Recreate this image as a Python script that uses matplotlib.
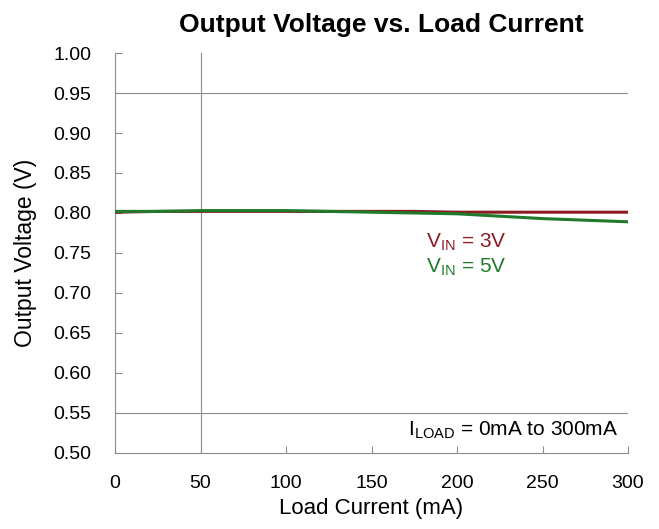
import matplotlib
matplotlib.use("Agg")
import matplotlib.pyplot as plt

plt.rcParams['font.family'] = ['Liberation Sans', 'DejaVu Sans']

load_ma = [0, 25, 50, 75, 100, 125, 150, 175, 200, 225, 250, 275, 300]
vout_3v = [0.801, 0.802, 0.802, 0.802, 0.802, 0.802, 0.802, 0.802, 0.801, 0.801, 0.801, 0.801, 0.801]
vout_5v = [0.802, 0.802, 0.803, 0.803, 0.803, 0.802, 0.801, 0.800, 0.799, 0.796, 0.793, 0.791, 0.789]

x_ticks = [0, 50, 100, 150, 200, 250, 300]
y_ticks = [0.50, 0.55, 0.60, 0.65, 0.70, 0.75, 0.80, 0.85, 0.90, 0.95, 1.00]

red = '#8a1c22'
green = '#1f7a2a'
grey = '#8c8c8c'

fig = plt.figure(figsize=(6.59, 5.29), dpi=100)
ax = fig.add_axes([0.1745, 0.1437, 0.7785, 0.7561])

ax.plot(load_ma, vout_3v, color=red, lw=2.2, zorder=3)
ax.plot(load_ma, vout_5v, color=green, lw=2.2, zorder=4)

ax.set_xlim(0, 300)
ax.set_ylim(0.50, 1.00)
ax.set_xticks(x_ticks)
ax.set_yticks(y_ticks)
ax.set_yticklabels([f"{v:.2f}" for v in y_ticks])

# sparse gridlines as in reference
for yv in [0.95, 0.55]:
    ax.axhline(yv, color=grey, lw=0.8, zorder=1)
ax.axvline(50, color=grey, lw=0.8, zorder=1)

for s in ['top', 'right']:
    ax.spines[s].set_visible(False)
for s in ['left', 'bottom']:
    ax.spines[s].set_color(grey)
    ax.spines[s].set_linewidth(0.8)

ax.tick_params(direction='in', length=5, color=grey, labelsize=14)
ax.tick_params(axis='y', pad=17)
ax.tick_params(axis='x', pad=16)

ax.set_xlabel('Load Current (mA)', fontsize=16, labelpad=4)
ax.set_ylabel('Output Voltage (V)', fontsize=16.5, labelpad=12)
fig.text(0.579, 0.975, 'Output Voltage vs. Load Current', fontsize=19,
         fontweight='bold', ha='center', va='top')

ax.text(0.606, 0.514, r'V$_{\mathregular{IN}}$ = 3V', transform=ax.transAxes,
        color=red, fontsize=15)
ax.text(0.606, 0.451, r'V$_{\mathregular{IN}}$ = 5V', transform=ax.transAxes,
        color=green, fontsize=15)
ax.text(0.98, 0.045, r'I$_{\mathregular{LOAD}}$ = 0mA to 300mA', transform=ax.transAxes,
        color='black', fontsize=15, ha='right')

fig.savefig('out.png', dpi=100)
